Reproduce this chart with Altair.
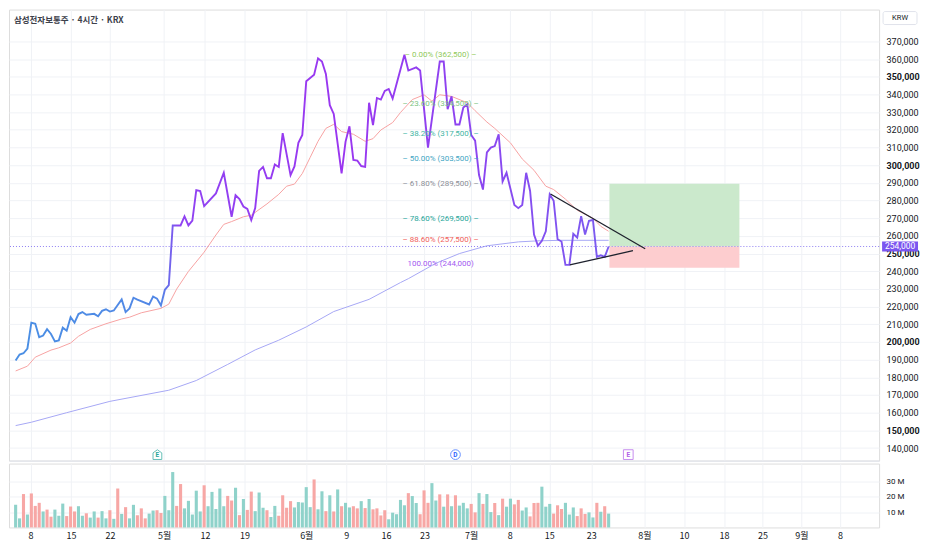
import altair as alt
import pandas as pd

TITLE = "삼성전자보통주 · 4시간 · KRX"

# ---- 4h close (bar index, KRW) ----
price_idx = [0,1,2,3,4,5,6,7,8,9,10,11,12,13,14,15,16,17,18,20,21,22,23,24,25,27,28,29,30,31,
             34,35,36,37,38,39,40,42,43,44,45,46,47,48,51,53,55,56,57,58,59,60,61,62,63,64,65,66,67,68,
             70,71,72,73,74,76,77,78,79,80,81,83,84,85,86,87,88,89,90,91,92,93,94,95,96,99,100,102,103,105,
             108,109,110,111,112,113,114,115,116,117,118,119,120,121,122,123,124,125,127,128,129,130,131,132,
             133,134,135,136,137,138,139,140,141,142,143,144,145,146,147,148,149,150,151]
price_val = [189500,192900,193600,196300,210900,210300,202700,203600,207200,204500,200300,200900,208100,206400,214000,
             210900,215800,216900,215400,215900,214500,217600,218500,217200,217800,224100,216900,219000,225000,223900,
             221200,225700,224500,220600,229500,232100,265900,265900,271000,265900,268600,285900,285400,276800,284000,
             295700,270800,283000,280800,276600,275300,269000,275700,296800,299000,292600,292600,300400,299000,318100,
             294400,299300,312600,317100,347500,351100,360400,358600,351600,333900,329000,295300,313200,322000,303000,
             302600,299500,299000,335300,322600,338000,337100,342000,343100,337700,362500,353500,355300,353500,309900,
             358600,358600,331700,338900,323000,323000,332600,334400,317100,313900,294400,286200,307200,309900,310800,
             317500,290800,295700,277500,275700,277500,295700,285400,260800,254400,257200,262600,283500,279900,258100,
             256800,243600,243600,261200,259000,271200,260800,268500,269000,248100,249000,248100,254000]

# ---- EMA (red) ----
ema_idx = [0,3,5,9,11,14,16,19,23,27,29,32,37,39,41,44,48,51,53,55,58,60,64,67,69,71,73,75,77,79,81,83,86,89,
           91,93,96,98,101,104,106,108,111,115,117,120,122,126,129,132,135,137,140,143,147,149,151]
ema_val = [183600,186300,191400,195400,196700,199400,203200,207100,210300,213000,214000,216500,219000,221400,
           229900,239900,250800,260500,266500,268100,270800,271700,278100,283500,288100,289300,295300,304400,
           313500,320800,323100,319000,317500,313500,315000,319900,324100,329800,337100,339800,336200,339800,
           338900,335300,330800,324400,320800,312600,303500,297100,288100,286200,280800,274500,270000,265400,262600]

# ---- long MA (blue) ----
ma_idx = [0,4,13,24,39,46,54,61,67,74,81,90,98,100,107,113,120,128,133,139,151]
ma_val = [152700,154600,160000,166400,172700,178200,187300,195500,201000,208500,217200,224100,233600,235800,
          244500,250000,254400,256600,257200,257500,257500]

# ---- volume (millions) and direction (g = up, r = down) ----
vol_m = [14.7,5.9,21.7,8.4,22.1,14.0,16.0,10.4,11.6,7.0,11.6,7.6,15.5,7.4,13.6,10.4,13.8,7.6,9.2,6.4,
         10.4,6.4,10.6,5.9,11.2,5.6,25.3,8.8,13.2,5.9,14.7,8.0,12.4,5.9,9.0,11.0,11.2,9.4,20.5,11.2,
         36.0,14.0,28.2,12.4,17.3,8.4,23.9,10.4,27.4,13.8,23.1,12.0,25.3,13.8,20.5,17.5,25.8,8.0,18.5,11.4,
         23.3,10.6,22.7,12.8,11.2,6.8,14.0,7.6,20.9,12.8,17.1,13.0,16.5,16.2,26.2,13.2,31.2,11.8,23.5,10.6,
         20.9,10.4,24.7,13.8,16.0,13.0,13.8,12.4,17.1,12.6,18.5,11.8,12.4,7.8,11.2,5.3,9.6,8.6,17.9,14.4,
         22.3,20.4,15.9,8.6,24.1,16.0,28.8,17.5,21.5,13.5,21.5,13.8,20.9,14.2,16.0,12.4,15.3,9.8,22.3,15.3,
         21.7,10.0,15.9,8.0,18.7,13.5,18.7,15.0,17.9,11.0,13.0,7.2,15.9,16.0,26.5,13.5,15.3,9.0,14.4,12.0,
         16.0,8.4,13.0,7.4,12.4,8.8,9.8,6.5,16.0,10.2,13.8,9.0]
vol_dir = ["g","g","r","g","r","r","r","g","r","r", "g","g","g","r","r","r","g","g","r","g",
           "g","r","g","g","r","g","r","g","r","g", "g","r","r","r","g","g","r","r","g","g",
           "g","r","r","g","g","g","g","g","r","g", "g","g","g","g","r","r","g","r","g","r",
           "r","g","g","g","r","g","g","r","r","r", "r","g","g","g","g","g","r","g","g","r",
           "g","r","g","r","g","g","r","r","g","r", "g","r","r","r","r","g","g","g","g","g",
           "r","g","g","r","r","r","g","g","r","g", "r","g","r","g","g","g","r","r","g","r",
           "g","g","r","g","r","g","g","r","r","g", "g","r","r","r","g","g","g","r","r","r",
           "g","g","g","r","r","r","g","g","r","g", "r","g"]
VOL_UP, VOL_DOWN = "#8fd2ca", "#f7a7a5"

# ---- fibonacci retracement labels ----
fib_pct = ["0.00%", "23.60%", "38.20%", "50.00%", "61.80%", "78.60%", "88.60%", "100.00%"]
fib_price = [362500, 334500, 317500, 303500, 289500, 269500, 257500, 244000]
fib_color = ["#8fca5a", "#7cc47f", "#3fb5a3", "#3fa6c4", "#8a8d96", "#26a69a", "#f0605a", "#a259f0"]
fib_x = 108.2

# ---- drawings ----
trend_x0 = [136.2, 141.1]
trend_x1 = [160.3, 157.2]
trend_y0 = [283700, 243600]
trend_y1 = [252700, 251600]
box_x = [151.2, 184.3]
box_entry, box_target, box_stop = 254000, 289500, 242000
last_price = 254000

event_lab = ["E", "D", "E"]
event_idx = [36.1, 112.0, 156.0]
event_col = ["#26a69a", "#2962ff", "#b05ee8"]
event_shape = ["M-0.9,1L-0.9,-0.35L0,-1L0.9,-0.35L0.9,1Z", "circle", "square"]

# ---- axes ----
x_tick_pos = [3.8, 14.1, 24.0, 37.8, 48.2, 58.3, 74.0, 84.2, 94.3, 104.1, 116.0, 125.8, 135.9, 146.6,
              160.1, 170.2, 180.4, 190.2, 200.1, 209.9]
x_tick_lab = ["8", "15", "22", "5월", "12", "19", "6월", "9", "16", "23", "7월", "8", "15", "23",
              "8월", "10", "18", "25", "9월", "8"]
y_ticks = list(range(140000, 380000, 10000))
vol_ticks = [10e6, 20e6, 30e6]

W, H1, H2 = 872, 452, 64
X_DOMAIN = [-0.42, 218.6]
Y_DOMAIN = [132900, 388000]
V_DOMAIN = [0, 41.5e6]
GRID = "#f0f2f6"
TXT = "#131722"

price_df = pd.DataFrame({"i": price_idx, "p": price_val})
ema_df = pd.DataFrame({"i": ema_idx, "p": ema_val})
ma_df = pd.DataFrame({"i": ma_idx, "p": ma_val})
vol_df = pd.DataFrame({"i": list(range(len(vol_m))), "v": [v * 1e6 for v in vol_m],
                       "c": [VOL_UP if c == "g" else VOL_DOWN for c in vol_dir]})
fib_df = pd.DataFrame({"i": [fib_x] * len(fib_pct), "p": fib_price, "c": fib_color,
                       "t": [(f"{a} ({b:,})" if a == "100.00%" else f"–  {a} ({b:,})  –")
                             for a, b in zip(fib_pct, fib_price)]})
trend_df = pd.DataFrame({"x0": trend_x0, "x1": trend_x1, "y0": trend_y0, "y1": trend_y1})
box_df = pd.DataFrame({"x0": [box_x[0]] * 2, "x1": [box_x[1]] * 2,
                       "y0": [box_entry, box_stop], "y1": [box_target, box_entry],
                       "c": ["#cbe9cc", "#fdcdcf"]})
last_df = pd.DataFrame({"p": [last_price], "t": [f"{last_price:,}"]})
ev_df = pd.DataFrame({"i": event_idx, "t": event_lab, "c": event_col, "s": event_shape})
one_df = pd.DataFrame({"a": [0]})

xs = alt.Scale(domain=X_DOMAIN, nice=False, zero=False)
ys = alt.Scale(domain=Y_DOMAIN, nice=False, zero=False)

x_axis_p = alt.Axis(values=x_tick_pos, labels=False, ticks=False, domain=True, domainColor="#e0e3eb",
                    gridColor=GRID, title=None)
y_axis_p = alt.Axis(orient="right", values=y_ticks, labelExpr="format(datum.value, ',')",
                    labelFontSize=9, labelColor=TXT, gridColor=GRID, domain=False, ticks=False,
                    labelPadding=7, title=None,
                    labelFontWeight=alt.condition("datum.value % 50000 == 0", alt.value("bold"), alt.value("normal")))

X = alt.X("i:Q", scale=xs, axis=x_axis_p)
Y = alt.Y("p:Q", scale=ys, axis=y_axis_p)

base_ma = alt.Chart(ma_df).mark_line(color="#a7a8f5", strokeWidth=1).encode(x=X, y=Y)
ema = alt.Chart(ema_df).mark_line(color="#f7a3a3", strokeWidth=1).encode(x=X, y=Y)

boxes = alt.Chart(box_df).mark_rect().encode(
    x=alt.X("x0:Q", scale=xs, axis=x_axis_p), x2="x1",
    y=alt.Y("y0:Q", scale=ys, axis=y_axis_p), y2="y1",
    color=alt.Color("c:N", scale=None))

last_line = alt.Chart(last_df).mark_rule(color="#8f80f2", strokeDash=[1, 2], strokeWidth=1).encode(y=Y)

grad = alt.Gradient(gradient="linear", x1=0, x2=1, y1=0, y2=0, stops=[
    alt.GradientStop(offset=0, color="#4a8fe4"),
    alt.GradientStop(offset=0.245, color="#5287e6"),
    alt.GradientStop(offset=0.275, color="#8f43f2"),
    alt.GradientStop(offset=0.55, color="#9a36f0"),
    alt.GradientStop(offset=0.8, color="#8a47f0"),
    alt.GradientStop(offset=1, color="#7a5cf0")])
price_line = alt.Chart(price_df).mark_line(stroke=grad, strokeWidth=1.9).encode(x=X, y=Y)

trends = alt.Chart(trend_df).mark_rule(color="#1e222d", strokeWidth=1.3).encode(
    x=alt.X("x0:Q", scale=xs, axis=x_axis_p), x2="x1",
    y=alt.Y("y0:Q", scale=ys, axis=y_axis_p), y2="y1")

fib_text = alt.Chart(fib_df).mark_text(fontSize=8, align="center", baseline="middle").encode(
    x=X, y=Y, text="t:N", color=alt.Color("c:N", scale=None))

title_text = alt.Chart(one_df).mark_text(text=TITLE, fontSize=8.5, fontWeight="bold", color="#3d414b",
                                         align="left", baseline="middle", font="Noto Sans CJK KR").encode(
    x=alt.value(5), y=alt.value(10))

ev_shapes = alt.Chart(ev_df).mark_point(filled=True, fill="white", size=95, strokeWidth=1).encode(
    x=X, y=alt.value(H1 - 6), shape=alt.Shape("s:N", scale=None), stroke=alt.Color("c:N", scale=None))
ev_text = alt.Chart(ev_df).mark_text(fontSize=6.5, fontWeight="bold", baseline="middle").encode(
    x=X, y=alt.value(H1 - 5.5), text="t:N", color=alt.Color("c:N", scale=None))

tag_bg = alt.Chart(last_df).mark_rule(color="#7b55f0", strokeWidth=10).encode(
    x=alt.value(W + 3), x2=alt.value(W + 39), y=Y)
tag_txt = alt.Chart(last_df).mark_text(color="white", fontSize=8.5, align="center", baseline="middle").encode(
    x=alt.value(W + 21), y=Y, text="t:N")

krw_box = alt.Chart(one_df).mark_rect(fill="white", stroke="#e0e3eb", cornerRadius=2).encode(
    x=alt.value(W + 4), x2=alt.value(W + 38), y=alt.value(2), y2=alt.value(15))
krw_txt = alt.Chart(one_df).mark_text(text="KRW", fontSize=7.5, color=TXT, align="center",
                                      baseline="middle").encode(x=alt.value(W + 21), y=alt.value(8.5))

price_chart = alt.layer(base_ma, boxes, last_line, ema, price_line, trends, fib_text, title_text,
                        ev_shapes, ev_text, tag_bg, tag_txt, krw_box, krw_txt).properties(width=W, height=H1)

lab_expr = "[" + ",".join(f"'{s}'" for s in x_tick_lab) + "][indexof([" + \
    ",".join(str(v) for v in x_tick_pos) + "], datum.value)]"

vol_chart = alt.Chart(vol_df).mark_bar(size=3.1).encode(
    x=alt.X("i:Q", scale=xs, axis=alt.Axis(values=x_tick_pos, labelExpr=lab_expr, labelFontSize=9,
                                          labelColor=TXT, ticks=False, domain=False, gridColor=GRID,
                                          labelPadding=4, labelAngle=0, labelOverlap=False,
                                          labelFlush=False, labelFont="Noto Sans CJK KR", title=None)),
    y=alt.Y("v:Q", scale=alt.Scale(domain=V_DOMAIN, nice=False),
            axis=alt.Axis(orient="right", values=vol_ticks, labelExpr="(datum.value/1e6) + ' M'",
                          labelFontSize=8, labelColor=TXT, ticks=False, domain=False, gridColor=GRID,
                          labelPadding=7, title=None)),
    color=alt.Color("c:N", scale=None),
).properties(width=W, height=H2)

chart = alt.vconcat(price_chart, vol_chart, spacing=0).resolve_scale(x="shared").properties(
    padding={"left": 0, "top": 0, "right": 0, "bottom": 0}
).configure_view(stroke=None).configure(font="Roboto")

chart.save("out.html", embed_options={"renderer": "svg", "actions": False})
